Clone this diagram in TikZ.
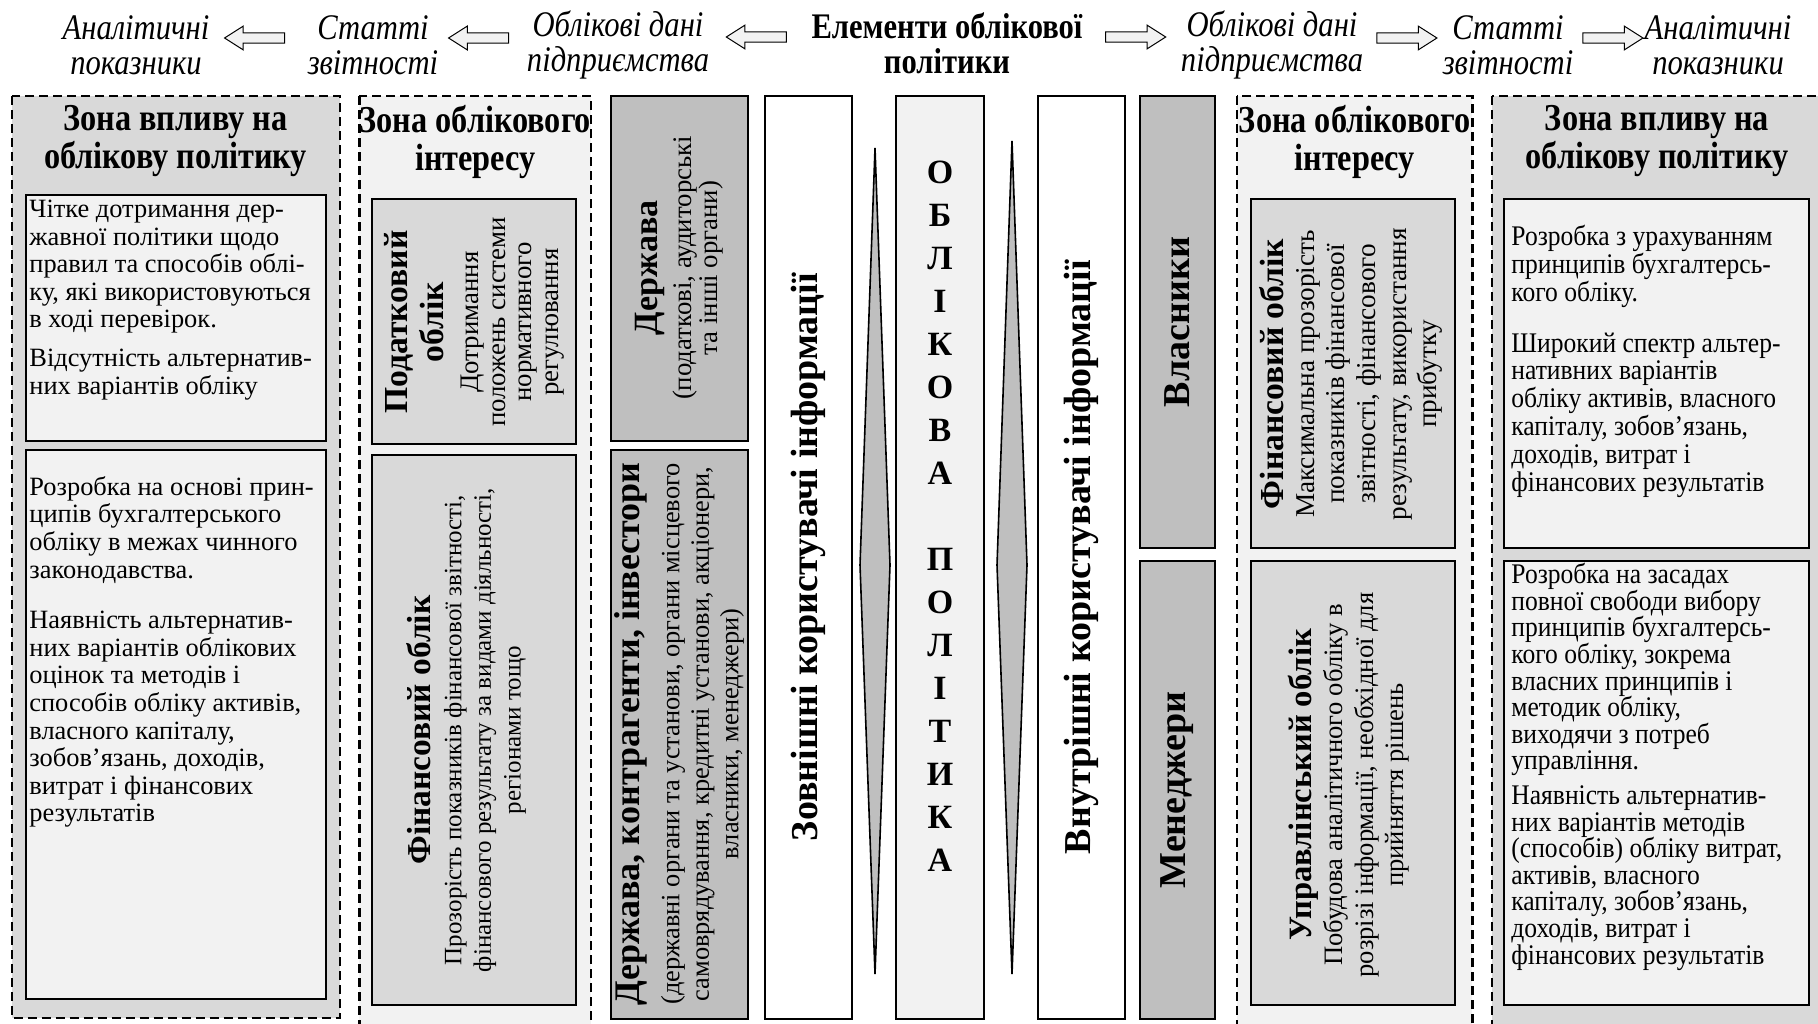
\documentclass[tikz,border=0pt]{standalone}
\usepackage{fontspec}
\setmainfont{Liberation Serif}
\newfontfamily\narrowserif[FakeStretch=0.85]{Liberation Serif}
\newfontfamily\tallserif[FakeStretch=0.9]{Liberation Serif}
\usetikzlibrary{shapes.arrows,calc}
\definecolor{palegray}{HTML}{F2F2F2}
\definecolor{zonegray}{HTML}{D9D9D9}
\definecolor{midgray}{HTML}{BFBFBF}
\newcommand{\vhead}[2][16.5]{{\bfseries\fontsize{#1}{#1}\selectfont #2}}

\begin{document}
\begin{tikzpicture}[x=0.5pt,y=-0.5pt,
		zone/.style={draw,line width=1.1pt,dash pattern=on 4.5pt off 2.5pt},
		box/.style={draw,line width=1pt},
		hdr/.style={align=center,inner sep=0pt,font=\narrowserif\itshape\fontsize{18}{17.5}\selectfont},
		zonetitle/.style={align=center,inner sep=0pt,font=\narrowserif\bfseries\fontsize{19}{19}\selectfont},
		body/.style={align=left,inner sep=0pt,anchor=north west,font=\fontsize{13.2}{13.7}\selectfont},
		narrowbody/.style={body,font=\tallserif\fontsize{14.2}{13.9}\selectfont},
		vtext/.style={align=center,inner sep=0pt,rotate=90},
		usertext/.style={vtext,font=\bfseries\fontsize{19}{19}\selectfont},
		spike/.style={draw,fill=midgray,line width=0.8pt},
		blockarr/.style={single arrow,draw,fill=palegray,line width=0.5pt,inner sep=2.3pt,
			minimum height=30pt,minimum width=11.5pt,single arrow head extend=3.4pt,single arrow tip angle=65}]
		\useasboundingbox (0,0) rectangle (1818,1023);
		\clip (0,0) rectangle (1818,1023);

		\node[hdr] (anlL) at (136,45) {Аналітичні\\показники};
		\node[hdr] (stL) at (373,45) {Статті\\звітності};
		\node[hdr] (obdL) at (618,45) {Облікові дані\\підприємства};
		\node[align=center,inner sep=0pt,font=\narrowserif\bfseries\fontsize{18}{17.5}\selectfont] (elem) at (947,43) {Елементи облікової\\політики};
		\node[hdr] (obdR) at (1272,45) {Облікові дані\\підприємства};
		\node[hdr] (stR) at (1508,45) {Статті\\звітності};
		\node[hdr] (anlR) at (1718,45) {Аналітичні\\показники};

		\node[blockarr,shape border rotate=180] (arL1) at ($(anlL.east)!.5!(stL.west)+(0,-7)$) {};
		\node[blockarr,shape border rotate=180] (arL2) at ($(stL.east)!.5!(obdL.west)+(0,-7)$) {};
		\node[blockarr,shape border rotate=180] (arL3) at ($(obdL.east)!.5!(elem.west)+(0,-7)$) {};
		\node[blockarr] (arR1) at ($(elem.east)!.5!(obdR.west)+(0,-7)$) {};
		\node[blockarr] (arR2) at ($(obdR.east)!.5!(stR.west)+(0,-7)$) {};
		\node[blockarr] (arR3) at ($(stR.east)!.5!(anlR.west)+(0,-7)$) {};

		\draw[zone,fill=zonegray] (11.6,96) rectangle (339.7,1018);
		\node[zonetitle] (infLt) at (175.6,141.5) {Зона впливу на\\облікову політику};
		\draw[box,fill=palegray] (25.5,195) rectangle (325.8,441);
		\node[body] (infL1) at (29,200) {Чітке дотримання дер-\\жавної політики щодо\\правил та способів облі-\\ку, які використовуються\\в ході перевірок.\\[6pt]Відсутність альтернатив-\\них варіантів обліку};
		\draw[box,fill=palegray] (25.5,450) rectangle (325.8,999);
		\node[body,font=\fontsize{13.2}{13.8}\selectfont] (infL2) at (29,476) {Розробка на основі прин-\\ципів бухгалтерського\\обліку в межах чинного\\законодавства.\\[11.5pt]Наявність альтернатив-\\них варіантів облікових\\оцінок та методів і\\способів обліку активів,\\власного капіталу,\\зобов’язань, доходів,\\витрат і фінансових\\результатів};

		\draw[zone,fill=palegray] (359.4,96) rectangle (591.3,1030);
		\node[zonetitle] (intLt) at (475.3,141.5) {Зона облікового\\інтересу};
		\draw[box,fill=zonegray] (372.2,199.4) rectangle (576.2,444);
		\node[vtext,font=\fontsize{13.4}{13.3}\selectfont] (podL) at (474,322) {\vhead[16.8]{Податковий}\\[2.2pt]\vhead[16.8]{облік}\\[4.2pt]Дотримання\\положень системи\\нормативного\\регулювання};
		\draw[box,fill=zonegray] (372.2,454.5) rectangle (576.2,1005.2);
		\node[vtext,font=\fontsize{12.5}{14.8}\selectfont] (finL) at (466,730) {\vhead[16.7]{Фінансовий облік}\\[0.8pt]Прозорість показників фінансової звітності,\\фінансового результату за видами діяльності,\\регіонами тощо};

		\draw[box,fill=midgray] (611,96.2) rectangle (747.8,440.6);
		\node[vtext,font=\fontsize{13.4}{13.3}\selectfont] (derz) at (679.4,268) {\vhead[17]{Держава}\\[3.5pt](податкові, аудиторські\\та інші органи)};
		\draw[box,fill=midgray] (611,449.8) rectangle (747.8,1019);
		\node[vtext,font=\fontsize{13.2}{14.8}\selectfont] (derzk) at (679.4,734) {\vhead[18]{Держава, контрагенти, інвестори}\\[5pt](державні органи та установи, органи місцевого\\самоврядування, кредитні установи, акціонери,\\власники, менеджери)};

		\draw[box,fill=white] (765.2,96.2) rectangle (852.2,1019);
		\node[usertext] (extu) at (808.7,557) {Зовнішні користувачі інформації};
		\draw[spike] (875,148) -- (890,565) -- (875,974) -- (860,565) -- cycle;

		\draw[box,fill=palegray] (896.2,96.2) rectangle (984.3,1019);
		\node[align=center,inner sep=0pt,font=\bfseries\fontsize{17}{21.5}\selectfont] (polt) at (940,516) {О\\Б\\Л\\І\\К\\О\\В\\А\\[21.5pt]П\\О\\Л\\І\\Т\\И\\К\\А};

		\draw[spike] (1012,141) -- (1027,565) -- (1012,974) -- (997,565) -- cycle;
		\draw[box,fill=white] (1037.7,96.2) rectangle (1124.6,1019);
		\node[usertext] (intu) at (1081,557) {Внутрішні користувачі інформації};

		\draw[box,fill=midgray] (1139.7,96.2) rectangle (1215,548.4);
		\node[usertext] (vlas) at (1177.4,322) {Власники};
		\draw[box,fill=midgray] (1139.7,561.2) rectangle (1215,1019);
		\node[usertext] (mened) at (1177.4,790) {Менеджери};

		\draw[zone,fill=palegray] (1237,96.2) rectangle (1472.4,1030);
		\node[zonetitle] (intRt) at (1354.7,141.5) {Зона облікового\\інтересу};
		\draw[box,fill=zonegray] (1251,199.4) rectangle (1455,548.4);
		\node[vtext,font=\fontsize{13.6}{15.3}\selectfont] (finR) at (1351,374) {\vhead[16.8]{Фінансовий облік}\\Максимальна прозорість\\показників фінансової\\звітності, фінансового\\результату, використання\\прибутку};
		\draw[box,fill=zonegray] (1251,561.2) rectangle (1455,1005.2);
		\node[vtext,font=\fontsize{13.3}{15.3}\selectfont] (uprR) at (1349,785) {\vhead[16.3]{Управлінський облік}\\Побудова аналітичного обліку в\\розрізі інформації, необхідної для\\прийняття рішень};

		\draw[zone,fill=zonegray] (1492,96.2) rectangle (1840,1030);
		\node[zonetitle] (infRt) at (1657,141.5) {Зона впливу на\\облікову політику};
		\draw[box,fill=palegray] (1503.7,199.4) rectangle (1808.6,548.4);
		\node[narrowbody] (infR1) at (1511,225) {Розробка з урахуванням\\принципів бухгалтерсь-\\кого обліку.\\[11.5pt]Широкий спектр альтер-\\нативних варіантів\\обліку активів, власного\\капіталу, зобов’язань,\\доходів, витрат і\\фінансових результатів};
		\draw[box,fill=palegray] (1503.7,561.2) rectangle (1808.6,1005.2);
		\node[narrowbody,font=\tallserif\fontsize{14.2}{13.3}\selectfont] (infR2) at (1511,563) {Розробка на засадах\\повної свободи вибору\\принципів бухгалтерсь-\\кого обліку, зокрема\\власних принципів і\\методик обліку,\\виходячи з потреб\\управління.\\[4pt]Наявність альтернатив-\\них варіантів методів\\(способів) обліку витрат,\\активів, власного\\капіталу, зобов’язань,\\доходів, витрат і\\фінансових результатів};
	\end{tikzpicture}
\end{document}
